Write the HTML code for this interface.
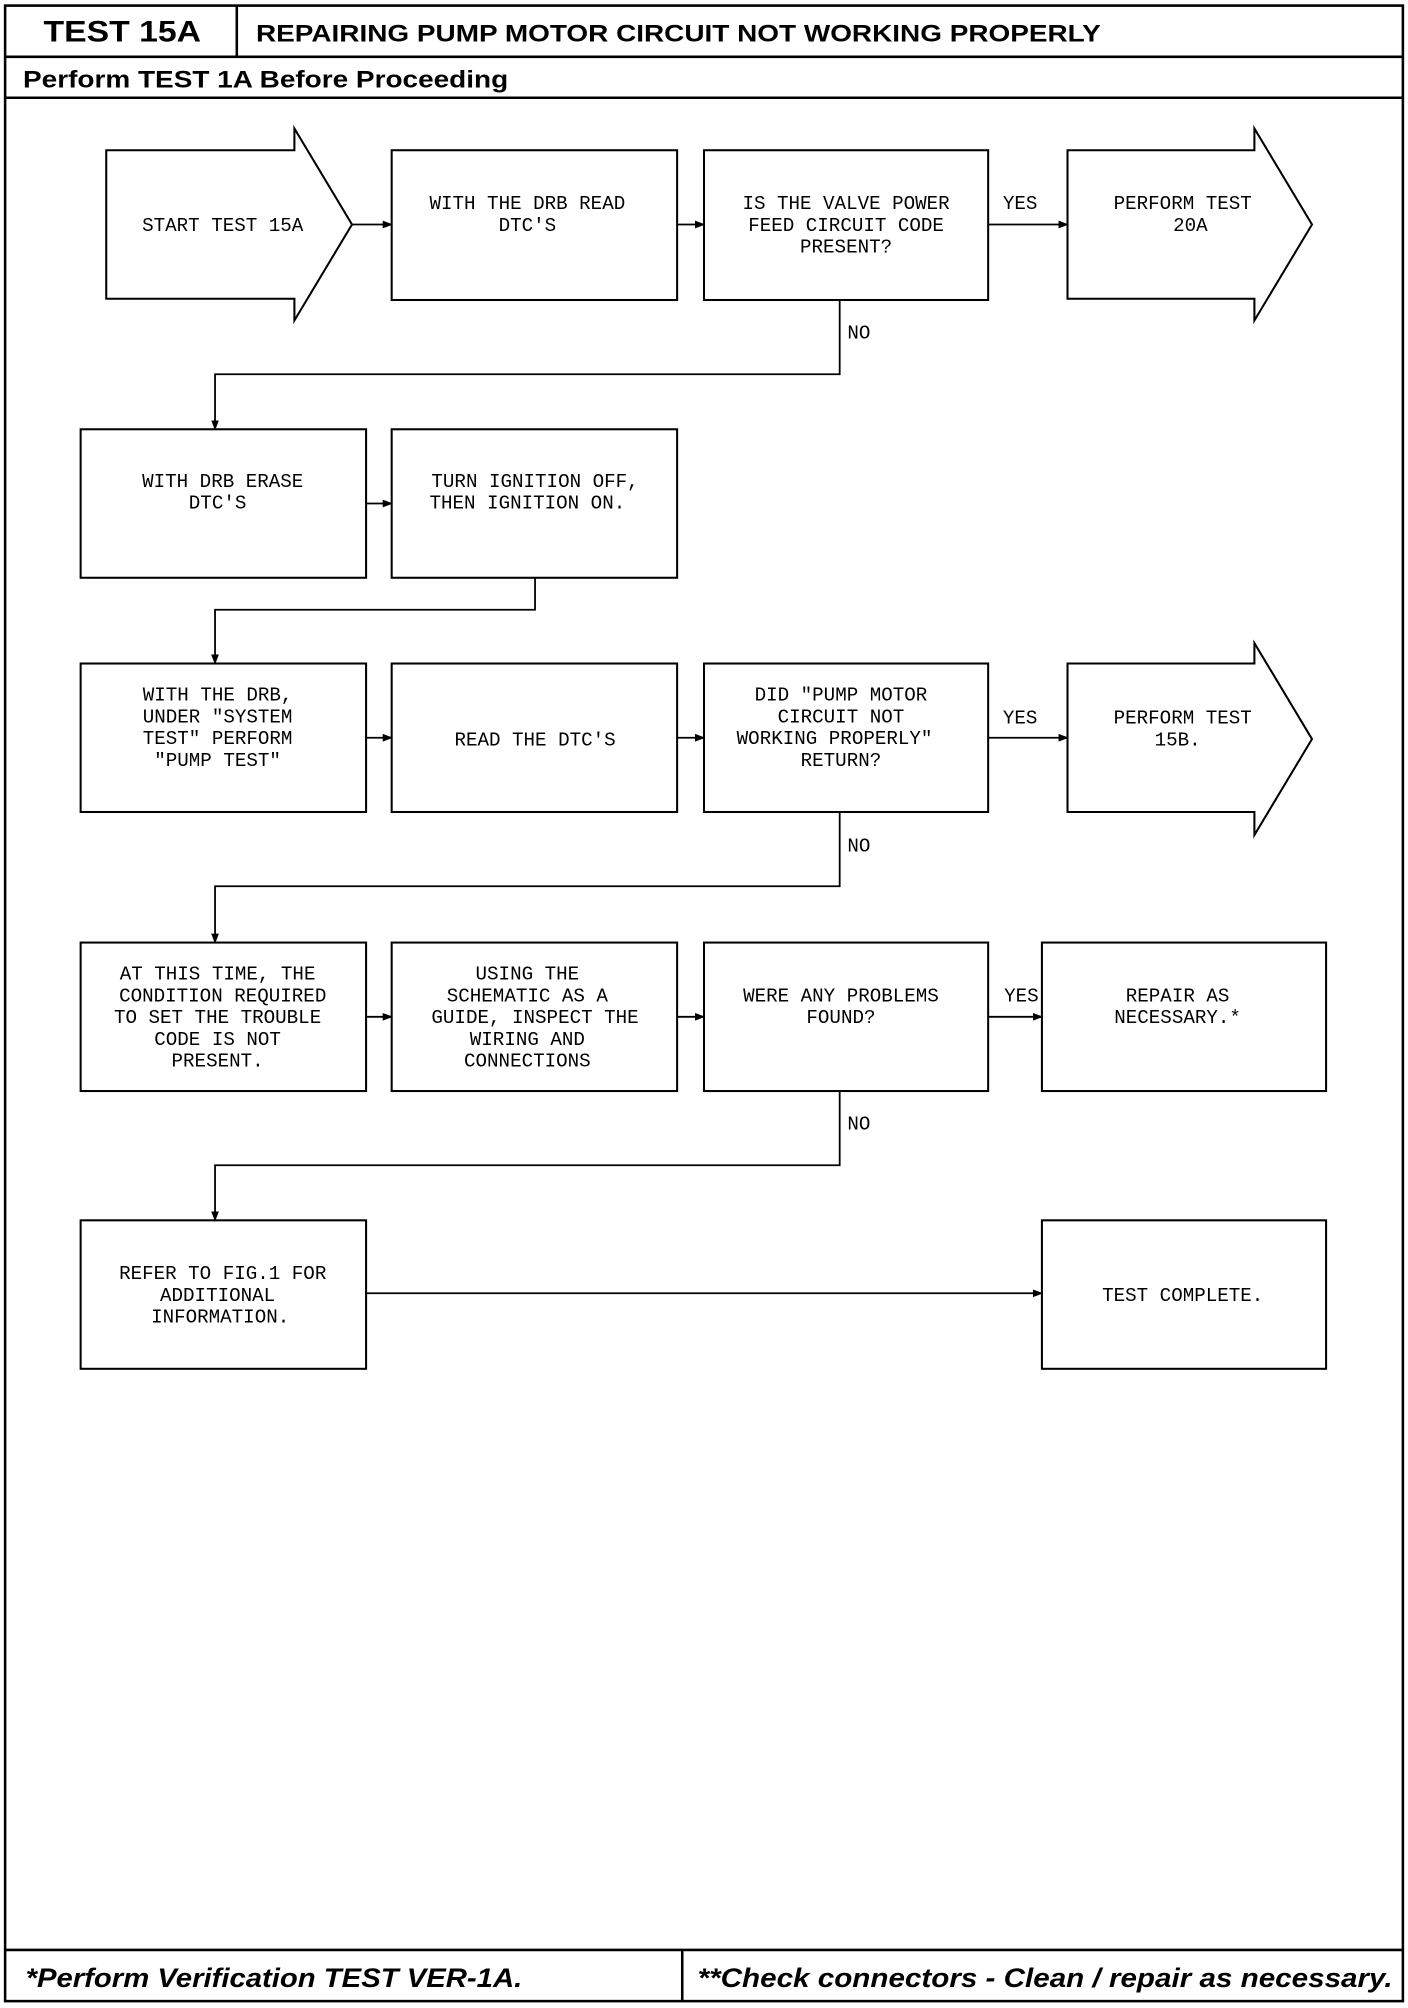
<!DOCTYPE html>
<html><head><meta charset="utf-8"><style>
html,body{margin:0;padding:0;background:#fff;}
svg{display:block;}
.b{font-family:"Liberation Sans",Arial,sans-serif;font-weight:bold;fill:#000;}
.m{font-family:"Liberation Mono",monospace;font-size:15px;fill:#000;}
</style></head><body>
<svg width="1408" height="2008" viewBox="0 0 1100 1568" xmlns="http://www.w3.org/2000/svg">
<defs><marker id="a" markerWidth="8" markerHeight="8" refX="7" refY="4" orient="auto" markerUnits="userSpaceOnUse"><path d="M0,1 L8,4 L0,7 z" fill="#000"/></marker></defs>
<g fill="none" stroke="#000" stroke-width="2">
<rect x="4" y="4" width="1092" height="1559"/>
<line x1="4" y1="44" x2="1096" y2="44"/>
<line x1="185" y1="4" x2="185" y2="44"/>
<line x1="4" y1="76" x2="1096" y2="76"/>
<line x1="4" y1="1523" x2="1096" y2="1523"/>
<line x1="533" y1="1523" x2="533" y2="1563"/>
</g>
<text class="b" x="34" y="32" font-size="23" textLength="123" lengthAdjust="spacingAndGlyphs">TEST 15A</text>
<text class="b" x="200" y="32" font-size="19" textLength="660" lengthAdjust="spacingAndGlyphs">REPAIRING PUMP MOTOR CIRCUIT NOT WORKING PROPERLY</text>
<text class="b" x="18" y="68" font-size="19" textLength="379" lengthAdjust="spacingAndGlyphs">Perform TEST 1A Before Proceeding</text>
<text class="b" x="20" y="1552" font-size="21" font-style="italic" textLength="388" lengthAdjust="spacingAndGlyphs">*Perform Verification TEST VER-1A.</text>
<text class="b" x="545" y="1552" font-size="21" font-style="italic" textLength="543" lengthAdjust="spacingAndGlyphs">**Check connectors - Clean / repair as necessary.</text>

<g fill="none" stroke="#000" stroke-width="1.6">
<path d="M83,117 H230 V100 L275,175 L230,250 V233 H83 Z"/>
<rect x="306" y="117" width="223" height="117"/>
<rect x="550" y="117" width="222" height="117"/>
<path d="M834,117 H980 V100 L1025,175 L980,250 V233 H834 Z"/>
<rect x="63" y="335" width="223" height="116"/>
<rect x="306" y="335" width="223" height="116"/>
<rect x="63" y="518" width="223" height="116"/>
<rect x="306" y="518" width="223" height="116"/>
<rect x="550" y="518" width="222" height="116"/>
<path d="M834,518 H980 V502 L1025,577 L980,652 V634 H834 Z"/>
<rect x="63" y="736" width="223" height="116"/>
<rect x="306" y="736" width="223" height="116"/>
<rect x="550" y="736" width="222" height="116"/>
<rect x="814" y="736" width="222" height="116"/>
<rect x="63" y="953" width="223" height="116"/>
<rect x="814" y="953" width="222" height="116"/>
</g>
<g fill="none" stroke="#000" stroke-width="1.4" marker-end="url(#a)">
<line x1="275" y1="175" x2="306" y2="175"/>
<line x1="529" y1="175" x2="550" y2="175"/>
<line x1="772" y1="175" x2="834" y2="175"/>
<polyline points="656,234 656,292 168,292 168,335"/>
<line x1="286" y1="393" x2="306" y2="393"/>
<polyline points="418,451 418,476 168,476 168,518"/>
<line x1="286" y1="576" x2="306" y2="576"/>
<line x1="529" y1="576" x2="550" y2="576"/>
<line x1="772" y1="576" x2="834" y2="576"/>
<polyline points="656,634 656,692 168,692 168,736"/>
<line x1="286" y1="794" x2="306" y2="794"/>
<line x1="529" y1="794" x2="550" y2="794"/>
<line x1="772" y1="794" x2="814" y2="794"/>
<polyline points="656,852 656,910 168,910 168,953"/>
<line x1="286" y1="1010" x2="814" y2="1010"/>
</g>
<g class="m" text-anchor="middle">
<text x="174" y="180">START TEST 15A</text>
<text x="412" y="163">WITH THE DRB READ</text><text x="412" y="180">DTC'S</text>
<text x="661" y="163">IS THE VALVE POWER</text><text x="661" y="180">FEED CIRCUIT CODE</text><text x="661" y="197">PRESENT?</text>
<text x="797" y="163">YES</text>
<text x="924" y="163">PERFORM TEST</text><text x="930" y="180">20A</text>
<text x="671" y="264">NO</text>
<text x="174" y="380">WITH DRB ERASE</text><text x="170" y="397">DTC'S</text>
<text x="418" y="380">TURN IGNITION OFF,</text><text x="412" y="397">THEN IGNITION ON.</text>
<text x="170" y="547">WITH THE DRB,</text><text x="170" y="564">UNDER "SYSTEM</text><text x="170" y="581">TEST" PERFORM</text><text x="170" y="598">"PUMP TEST"</text>
<text x="418" y="582">READ THE DTC'S</text>
<text x="657" y="547">DID "PUMP MOTOR</text><text x="657" y="564">CIRCUIT NOT</text><text x="652" y="581">WORKING PROPERLY"</text><text x="657" y="598">RETURN?</text>
<text x="797" y="565">YES</text>
<text x="924" y="565">PERFORM TEST</text><text x="920" y="582">15B.</text>
<text x="671" y="665">NO</text>
<text x="170" y="765">AT THIS TIME, THE</text><text x="174" y="782">CONDITION REQUIRED</text><text x="170" y="799">TO SET THE TROUBLE</text><text x="170" y="816">CODE IS NOT</text><text x="170" y="833">PRESENT.</text>
<text x="412" y="765">USING THE</text><text x="412" y="782">SCHEMATIC AS A</text><text x="418" y="799">GUIDE, INSPECT THE</text><text x="412" y="816">WIRING AND</text><text x="412" y="833">CONNECTIONS</text>
<text x="657" y="782">WERE ANY PROBLEMS</text><text x="657" y="799">FOUND?</text>
<text x="798" y="782">YES</text>
<text x="920" y="782">REPAIR AS</text><text x="920" y="799">NECESSARY.*</text>
<text x="671" y="882">NO</text>
<text x="174" y="999">REFER TO FIG.1 FOR</text><text x="170" y="1016">ADDITIONAL</text><text x="172" y="1033">INFORMATION.</text>
<text x="924" y="1016">TEST COMPLETE.</text>
</g>
</svg>
</body></html>
